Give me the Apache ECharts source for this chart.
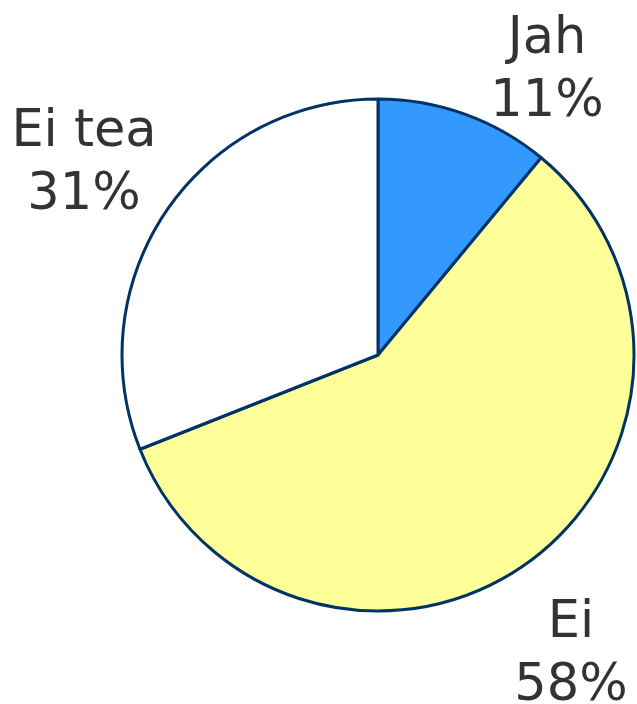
<!DOCTYPE html>
<html>
<head>
<meta charset="utf-8">
<script src="https://cdn.jsdelivr.net/npm/echarts@6/dist/echarts.min.js"></script>
<style>
  html, body { margin: 0; padding: 0; background: #fff; }
  #chart { width: 637px; height: 704px; }
</style>
</head>
<body>
<div id="chart"></div>
<script>
// andmed
const categories = ['Jah', 'Ei', 'Ei tea'];
const values = [11, 58, 31];
const colors = ['#3399FF', '#FFFF99', '#FFFFFF'];

// sildi kohad (keskpunkt pikslites)
const labelPos = [[547, 71], [571, 655], [84, 164]];

const chart = echarts.init(document.getElementById('chart'));

chart.setOption({
  animation: false,
  series: [{
    type: 'pie',
    center: [378, 355],
    radius: 256,
    startAngle: 90,
    clockwise: true,
    data: categories.map((name, i) => ({
      name: name,
      value: values[i],
      itemStyle: { color: colors[i] }
    })),
    itemStyle: { borderColor: '#003366', borderWidth: 3 },
    label: {
      show: true,
      position: 'outside',
      formatter: p => p.name + '\n' + p.value + '%',
      fontFamily: 'DejaVu Sans',
      fontSize: 51,
      lineHeight: 63,
      color: '#333333',
      align: 'center',
      overflow: 'none',
      width: 300
    },
    labelLine: { show: false },
    labelLayout: p => ({
      x: labelPos[p.dataIndex][0],
      y: labelPos[p.dataIndex][1],
      align: 'center',
      verticalAlign: 'middle'
    }),
    emphasis: { disabled: true }
  }]
});
</script>
</body>
</html>
